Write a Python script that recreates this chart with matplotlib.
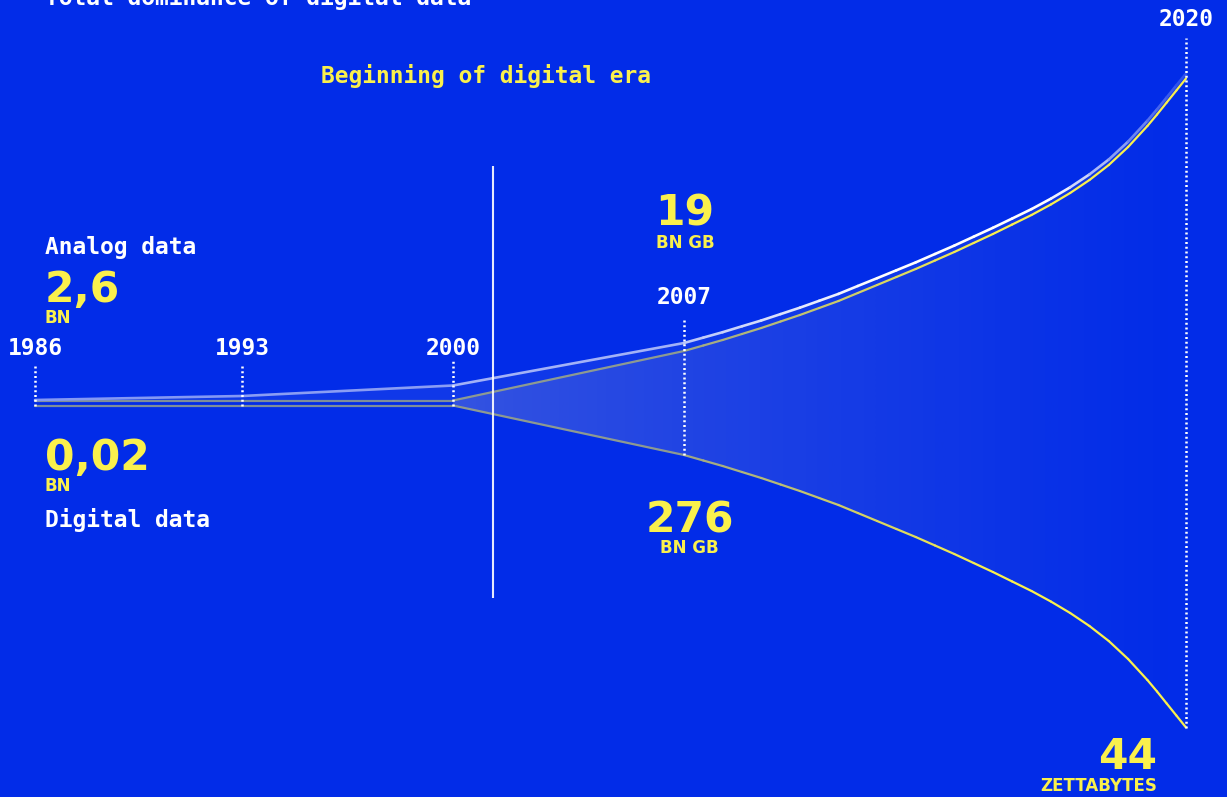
import numpy as np
import matplotlib
matplotlib.use("Agg")
import matplotlib.pyplot as plt
from matplotlib.collections import LineCollection
from matplotlib.colors import to_rgb

# ---------------- data (chart units: half-height above/below centre) ----------------
years = [1986, 1993, 2000, 2007, 2007.5, 2008, 2008.5, 2009, 2009.5, 2010, 2010.5,
         2011, 2011.5, 2012, 2012.5, 2013, 2013.5, 2014, 2014.5, 2015, 2015.5,
         2016, 2016.5, 2017, 2017.5, 2018, 2018.5, 2019, 2019.25, 2019.5, 2019.75, 2020]
digital_spread = [2.5, 2.5, 2.5, 52, 57.5, 63, 69, 75, 81.5, 88, 95,
                  102, 110, 118, 126, 134, 142.5, 151, 160, 169, 178.5,
                  188, 198.5, 210, 223, 238, 256, 277, 288.5, 300.5, 312.5, 324.5]
total_top = [3, 7, 17.5, 60, 65.4, 70.8, 76.7, 82.5, 88.9, 95.3, 102.2,
             109.1, 117, 124.8, 132.7, 140.6, 149, 157.4, 166.3, 175.2, 184.5,
             193.9, 204.3, 215.7, 228.6, 243.5, 261.4, 282.3, 293.7, 305.6, 317.6, 329.5]
tick_years = [1986, 1993, 2000, 2007, 2020]
tick_labels = ["1986", "1993", "2000", "2007", "2020"]
era_year = 2001.2

# ---------------- style ----------------
BG = "#022ce8"
YEL = "#faf04c"
W, H = 1227, 797
MONO = dict(family="DejaVu Sans Mono", weight="bold", size=16.5)
BIG = dict(family="DejaVu Sans", weight="bold", size=30.5)
SMALL = dict(family="DejaVu Sans", weight="bold", size=12)

# piecewise year -> horizontal position scale (layout of original)
AY = np.array([1986, 1993, 2000, 2007, 2020], float)
AP = np.array([35, 242, 453, 684, 1186], float)
s0 = (AP[1] - AP[0]) / (AY[1] - AY[0])
s1 = (AP[-1] - AP[-2]) / (AY[-1] - AY[-2])


def fwd(y):
    y = np.asarray(y, float)
    r = np.interp(y, AY, AP)
    r = np.where(y < AY[0], AP[0] + (y - AY[0]) * s0, r)
    r = np.where(y > AY[-1], AP[-1] + (y - AY[-1]) * s1, r)
    return r


def inv(p):
    p = np.asarray(p, float)
    r = np.interp(p, AP, AY)
    r = np.where(p < AP[0], AY[0] + (p - AP[0]) / s0, r)
    r = np.where(p > AP[-1], AY[-1] + (p - AP[-1]) / s1, r)
    return r


fig = plt.figure(figsize=(W / 100, H / 100), dpi=100, facecolor=BG)
ax = fig.add_axes([0, 0, 1, 1])
ax.set_facecolor(BG)
ax.set_xscale("function", functions=(fwd, inv))
CY = 403
ax.axis("off")

yrs = np.array(years, float)
dig = np.array(digital_spread, float)
tot = np.array(total_top, float)

bg_rgb = np.array(to_rgb(BG))


def blend(c, a):
    return tuple(a * np.array(to_rgb(c)) + (1 - a) * bg_rgb)


# faint band between total line and digital upper edge
ax.fill_between(yrs, dig, tot, color="white", alpha=0.06, lw=0, zorder=1)

# gradient fill of digital area
poly = ax.fill_between(yrs, -dig, dig, color="none", lw=0, zorder=1)
n = 256
grad = np.zeros((1, n, 4))
grad[..., :3] = (0.78, 0.78, 0.8)
grad[0, :, 3] = np.linspace(0.29, 0.0, n) ** 1.1
im = ax.imshow(grad, extent=[2000, 2020, -340, 340], aspect="auto",
               interpolation="bilinear", zorder=2)
im.set_clip_path(poly.get_paths()[0], transform=ax.transData)
ax.set_xlim(float(inv(0)), float(inv(W)))
ax.set_ylim(CY - H, CY)


def grad_line(x, y, alpha_fn, color, lw, z):
    pts = np.column_stack([x, y])
    segs = np.stack([pts[:-1], pts[1:]], axis=1)
    mids = (x[:-1] + x[1:]) / 2
    cols = [blend(color, alpha_fn(m)) for m in mids]
    lc = LineCollection(segs, colors=cols, linewidths=lw, capstyle="round",
                        joinstyle="round", zorder=z)
    ax.add_collection(lc)


def yel_alpha(m):
    return float(np.interp(m, [1986, 2000, 2007, 2015, 2020],
                           [0.5, 0.5, 0.62, 1.0, 1.0]))


def lav_alpha(m):
    return float(np.interp(m, [1986, 2000, 2007, 2012, 2016.5, 2018.2, 2019.2, 2020],
                           [0.5, 0.55, 0.72, 1.0, 1.0, 0.55, 0.3, 0.15]))


grad_line(yrs, dig, yel_alpha, YEL, 1.6, 4)
grad_line(yrs, -dig, yel_alpha, YEL, 1.6, 4)
grad_line(yrs, tot, lav_alpha, "white", 1.9, 5)

# beginning of digital era line
ax.vlines(era_year, CY - 598, CY - 166, color="white", alpha=0.9, lw=1.5, zorder=6)

# year ticks (dotted)
tick_tops = [CY - 366, CY - 366, CY - 360, CY - 318, CY - 38]
tick_bottoms = -np.interp(tick_years, yrs, dig)
ax.vlines(tick_years, tick_bottoms, tick_tops, color="white", lw=1.8,
          linestyles=[(0, (0.8, 1.1))], zorder=7, snap=True)
label_base = [CY - 355, CY - 355, CY - 355, CY - 303.5, CY - 26]
for ty, tl, tb in zip(tick_years, tick_labels, label_base):
    ax.text(ty, tb, tl, ha="center", va="baseline", color="white", **MONO)


def ftext(xp, yp, s, color, ha="left", **kw):
    fig.text(xp / W, 1 - yp / H, s, ha=ha, va="baseline", color=color, **kw)


ftext(45, 5, "Total dominance of digital data", "white", **MONO)
ftext(486, 83.5, "Beginning of digital era", YEL, ha="center", **MONO)
ftext(45, 254, "Analog data", "white", **MONO)
ftext(45, 302, "2,6", YEL, **BIG)
ftext(45, 323, "BN", YEL, **SMALL)
ftext(45, 469.5, "0,02", YEL, **BIG)
ftext(45, 491, "BN", YEL, **SMALL)
ftext(45, 526.5, "Digital data", "white", **MONO)
ftext(685, 226, "19", YEL, ha="center", **BIG)
ftext(685, 247.7, "BN GB", YEL, ha="center", **SMALL)
ftext(690, 532.3, "276", YEL, ha="center", **BIG)
ftext(689.5, 553.3, "BN GB", YEL, ha="center", **SMALL)
ftext(1157, 769.3, "44", YEL, ha="right", **BIG)
ftext(1157, 790.7, "ZETTABYTES", YEL, ha="right", **SMALL)

fig.savefig("out.png", dpi=100, facecolor=BG)
